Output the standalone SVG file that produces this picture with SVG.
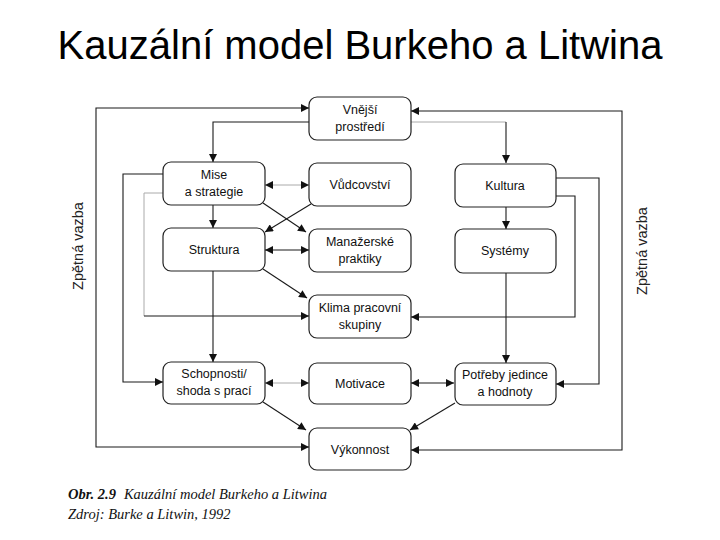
<svg xmlns="http://www.w3.org/2000/svg" width="720" height="540" viewBox="0 0 720 540">
<style>
.box{fill:#fff;stroke:#222;stroke-width:1.2}
.t{font-family:"Liberation Sans",Arial,sans-serif;font-size:12.5px;fill:#111;text-anchor:middle}
.ln{fill:none;stroke:#1a1a1a;stroke-width:1.1}
.fa{fill:none;stroke:#aaa;stroke-width:1}
.side{font-family:"Liberation Sans",Arial,sans-serif;font-size:14.5px;fill:#222;text-anchor:middle}
.cap{font-family:"Liberation Serif","Times New Roman",serif;font-size:14.5px;font-style:italic;fill:#111}
</style>
<defs>
<marker id="ar" viewBox="0 0 10 10" refX="10" refY="5" markerUnits="userSpaceOnUse" markerWidth="9" markerHeight="8" orient="auto-start-reverse">
<path d="M0,0 L10,5 L0,10 z" fill="#111"/>
</marker>
</defs>
<rect width="720" height="540" fill="#fff"/>
<text x="360" y="59" font-family="'Liberation Sans',Arial,sans-serif" font-size="40" text-anchor="middle" fill="#000">Kauzální model Burkeho a Litwina</text>

<g id="connectors">
<path class="ln" d="M309,108 H96 V447 H309" marker-start="url(#ar)" marker-end="url(#ar)"/>
<path class="ln" d="M411,111 H622 V450 H411" marker-start="url(#ar)" marker-end="url(#ar)"/>
<path class="ln" d="M309,122 H213 V162" marker-end="url(#ar)"/>
<path class="fa" d="M411,122 H506"/>
<path class="ln" d="M506,122 V163" marker-end="url(#ar)"/>
<path class="fa" d="M265,185 H309" marker-start="url(#ar)" marker-end="url(#ar)"/>
<path class="ln" d="M213,205 V228" marker-end="url(#ar)"/>
<path class="ln" d="M506,206 V229" marker-end="url(#ar)"/>
<path class="ln" d="M263,203 L306,232" stroke-width="0.9" marker-end="url(#ar)"/>
<path class="ln" d="M311,204 L265,232" stroke-width="0.9" marker-end="url(#ar)"/>
<path class="ln" d="M163,174 H123 V382 H163" marker-end="url(#ar)"/>
<path class="fa" d="M163,193 H144 V316"/>
<path class="ln" d="M144,316 H309" stroke="#555" marker-end="url(#ar)"/>
<path class="ln" d="M556,178 H599 V384 H556" marker-end="url(#ar)"/>
<path class="ln" d="M556,196 H575 V317 H411" stroke="#555" marker-end="url(#ar)"/>
<path class="ln" d="M265,250 H309" marker-start="url(#ar)" marker-end="url(#ar)"/>
<path class="ln" d="M263,269 L307,298" stroke-width="0.9" marker-end="url(#ar)"/>
<path class="ln" d="M213,271 V362" marker-end="url(#ar)"/>
<path class="ln" d="M506,272 V363" marker-end="url(#ar)"/>
<path class="fa" d="M265,383 H309" marker-start="url(#ar)" marker-end="url(#ar)"/>
<path class="ln" d="M411,383 H454" marker-start="url(#ar)" marker-end="url(#ar)"/>
<path class="ln" d="M263,402 L306,430" stroke-width="0.9" marker-end="url(#ar)"/>
<path class="ln" d="M455,403 L410,430" stroke-width="0.9" marker-end="url(#ar)"/>
</g>

<g id="vnejsi"><rect class="box" x="309" y="97" width="102" height="43" rx="8"/><text class="t" x="360" y="114">Vnější</text><text class="t" x="360" y="131">prostředí</text></g>
<g id="mise"><rect class="box" x="163" y="162" width="102" height="43" rx="8"/><text class="t" x="214" y="179">Mise</text><text class="t" x="214" y="196">a strategie</text></g>
<g id="vudcovstvi"><rect class="box" x="309" y="163" width="102" height="43" rx="8"/><text class="t" x="360" y="189">Vůdcovství</text></g>
<g id="kultura"><rect class="box" x="455" y="164" width="101" height="43" rx="8"/><text class="t" x="505" y="190">Kultura</text></g>
<g id="struktura"><rect class="box" x="163" y="228" width="102" height="43" rx="8"/><text class="t" x="214" y="254">Struktura</text></g>
<g id="manazerske"><rect class="box" x="309" y="229" width="102" height="43" rx="8"/><text class="t" x="360" y="246">Manažerské</text><text class="t" x="360" y="263">praktiky</text></g>
<g id="systemy"><rect class="box" x="455" y="229" width="101" height="44" rx="8"/><text class="t" x="505" y="255">Systémy</text></g>
<g id="klima"><rect class="box" x="309" y="295" width="102" height="43" rx="8"/><text class="t" x="360" y="312">Klima pracovní</text><text class="t" x="360" y="329">skupiny</text></g>
<g id="schopnosti"><rect class="box" x="163" y="362" width="102" height="42" rx="8"/><text class="t" x="214" y="378">Schopnosti/</text><text class="t" x="214" y="395">shoda s prací</text></g>
<g id="motivace"><rect class="box" x="309" y="363" width="102" height="41" rx="8"/><text class="t" x="360" y="388">Motivace</text></g>
<g id="potreby"><rect class="box" x="455" y="363" width="101" height="42" rx="8"/><text class="t" x="505" y="379">Potřeby jedince</text><text class="t" x="505" y="396">a hodnoty</text></g>
<g id="vykonnost"><rect class="box" x="309" y="428" width="102" height="42" rx="8"/><text class="t" x="360" y="454">Výkonnost</text></g>

<text class="side" transform="translate(83,246) rotate(-90)">Zpětná vazba</text>
<text class="side" transform="translate(647,251) rotate(-90)">Zpětná vazba</text>

<text class="cap" x="68" y="499"><tspan font-weight="bold">Obr. 2.9</tspan><tspan dx="8">Kauzální model Burkeho a Litwina</tspan></text>
<text class="cap" x="68" y="519">Zdroj: Burke a Litwin, 1992</text>
</svg>
